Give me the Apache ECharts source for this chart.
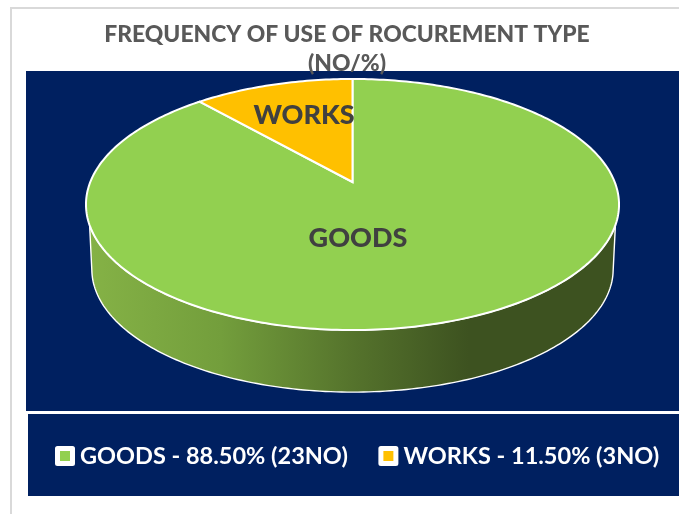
<!DOCTYPE html>
<html>
<head>
<meta charset="utf-8">
<style>
  html, body { margin: 0; padding: 0; background: #fff; }
  #main { width: 679px; height: 514px; }
</style>
<script src="https://cdn.jsdelivr.net/npm/echarts@6/dist/echarts.min.js"></script>
</head>
<body>
<div id="main"></div>
<script>
// data
var categories = ['GOODS', 'WORKS'];
var shares = [88.5, 11.5];
var counts = [23, 3];
var sliceColors = ['#92D050', '#FFC000'];

var NAVY = '#002060';

// the tilted disc: a circle under perspective, so slices keep their true share
var cx = 352.5, cy = 182;
var A = 262.2, B = 121.5, K = 0.1794;

function rim(deg, scale, drop) {
    var a = deg * Math.PI / 180;
    var w = 1 + K * Math.cos(a);
    return [
        cx + A * Math.sin(a) / w * scale,
        cy - B * Math.cos(a) / w * scale + drop
    ];
}

function arc(from, to, scale, drop) {
    var pts = [];
    var n = Math.max(2, Math.ceil(Math.abs(to - from)));
    for (var i = 0; i <= n; i++) {
        pts.push(rim(from + (to - from) * i / n, scale, drop));
    }
    return pts;
}

var wallGradient = new echarts.graphic.LinearGradient(0, 0, 1, 0, [
    { offset: 0, color: '#85B246' },
    { offset: 0.25, color: '#739E3C' },
    { offset: 0.5, color: '#55732C' },
    { offset: 0.72, color: '#3D5220' },
    { offset: 1, color: '#3D5220' }
]);

var labelPos = { GOODS: [358, 238], WORKS: [304, 115] };

function renderSlice(params, api) {
    var start = api.value(0) * 3.6;
    var end = start + api.value(1) * 3.6;
    var name = categories[params.seriesIndex];
    var children = [];

    // only the front of the disc shows its side wall
    if (start < 250 && end > 110) {
        var top = arc(Math.max(start, 109.5), Math.min(end, 250.5), 1, 0);
        var bottom = arc(Math.min(end, 259), Math.max(start, 101), 0.978, 65.3);
        children.push({
            type: 'polygon',
            shape: { points: top.concat(bottom) },
            style: { fill: wallGradient, stroke: '#fff', lineWidth: 1.4 }
        });
    }
    children.push({
        type: 'polygon',
        shape: { points: [[cx, cy]].concat(arc(start, end, 1, 0)) },
        style: { fill: sliceColors[params.seriesIndex], stroke: '#fff', lineWidth: 2 }
    });
    children.push({
        type: 'text',
        z2: 10,
        style: {
            text: name,
            x: labelPos[name][0],
            y: labelPos[name][1],
            align: 'center',
            verticalAlign: 'middle',
            fill: '#404040',
            fontFamily: 'Lato',
            fontWeight: 900,
            fontSize: 27
        }
    });
    return { type: 'group', children: children };
}

var cumulative = 0;
var series = categories.map(function (name, i) {
    var item = {
        name: name,
        type: 'custom',
        coordinateSystem: 'none',
        silent: true,
        itemStyle: { color: sliceColors[i] },
        renderItem: renderSlice,
        data: [[cumulative, shares[i]]]
    };
    cumulative += shares[i];
    return item;
});

var myChart = echarts.init(document.getElementById('main'));
myChart.setOption({
    animation: false,
    backgroundColor: '#fff',
    title: {
        text: 'FREQUENCY OF USE OF ROCUREMENT TYPE\n(NO/%)',
        left: 347,
        top: 20,
        padding: 0,
        textAlign: 'center',
        textStyle: {
            color: '#595959',
            fontFamily: 'Lato',
            fontWeight: 900,
            fontSize: 22.85,
            lineHeight: 29
        }
    },
    legend: {
        left: 55,
        top: 444,
        padding: 0,
        icon: 'rect',
        itemWidth: 15,
        itemHeight: 15,
        itemGap: 30.5,
        itemStyle: { borderColor: '#fff', borderWidth: 5, borderJoin: 'round' },
        textStyle: {
            color: '#fff',
            fontFamily: 'Lato',
            fontWeight: 'bold',
            fontSize: 23.5,
            padding: [0, 0, 0, 2.5]
        },
        formatter: function (name) {
            var i = categories.indexOf(name);
            return name + ' - ' + shares[i].toFixed(2) + '% (' + counts[i] + 'NO)';
        },
        data: categories
    },
    graphic: [
        { type: 'rect', z: -1, shape: { x: 11, y: 8, width: 680, height: 520 },
          style: { fill: '#fff', stroke: '#D9D9D9', lineWidth: 2 } },
        { type: 'rect', z: -1, shape: { x: 26, y: 71, width: 653, height: 340 }, style: { fill: NAVY } },
        { type: 'rect', z: -1, shape: { x: 28, y: 414, width: 651, height: 82 }, style: { fill: NAVY } }
    ],
    series: series
});
</script>
</body>
</html>
